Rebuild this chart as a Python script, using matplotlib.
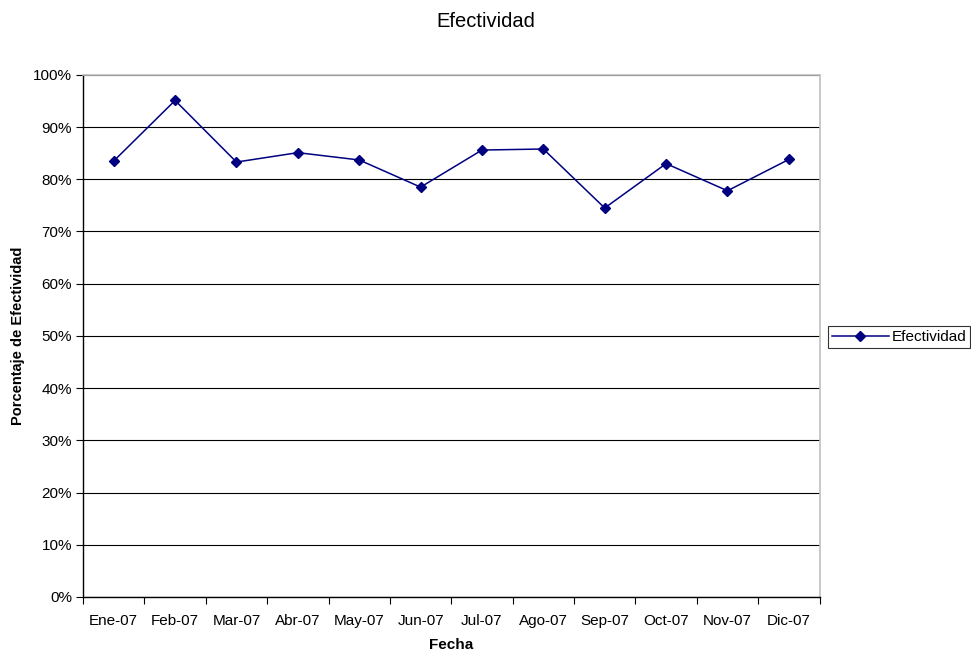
import matplotlib
matplotlib.use("Agg")
import matplotlib.pyplot as plt
from matplotlib.ticker import FixedLocator, FuncFormatter

plt.rcParams['font.family'] = ['Liberation Sans', 'DejaVu Sans']

# Datos mensuales de efectividad (%)
meses = ['Ene-07', 'Feb-07', 'Mar-07', 'Abr-07', 'May-07', 'Jun-07',
         'Jul-07', 'Ago-07', 'Sep-07', 'Oct-07', 'Nov-07', 'Dic-07']
efectividad = [83.5, 95.1, 83.3, 85.1, 83.7, 78.5,
               85.6, 85.8, 74.5, 83.0, 77.8, 83.8]

azul = '#000080'

fig = plt.figure(figsize=(9.71, 6.51), dpi=100)
ax = fig.add_axes([0.0855, 0.083, 0.7585, 0.802])

x = list(range(len(meses)))
ax.plot(x, efectividad, color=azul, linewidth=1.1, marker='D',
        markersize=5.5, label='Efectividad')

ax.set_xlim(-0.5, len(meses) - 0.5)
ax.set_ylim(0, 100)

# líneas de cuadrícula horizontales cada 10%
ax.set_yticks(range(0, 101, 10))
ax.yaxis.set_major_formatter(FuncFormatter(lambda v, p: f'{int(v)}%'))
ax.grid(axis='y', color='black', linewidth=0.8)
ax.set_axisbelow(True)

# ticks de categoría en los bordes, etiquetas centradas
ax.xaxis.set_major_locator(FixedLocator([i - 0.5 for i in range(len(meses) + 1)]))
ax.xaxis.set_major_formatter(FuncFormatter(lambda v, p: ''))
ax.xaxis.set_minor_locator(FixedLocator(x))
ax.set_xticklabels(meses, minor=True)
ax.tick_params(axis='x', which='minor', length=0, pad=12, labelsize=11)
ax.tick_params(axis='x', which='major', length=5, direction='out', color='black')
ax.tick_params(axis='y', length=5, direction='out', labelsize=11, pad=3)

for s in ['top', 'right']:
    ax.spines[s].set_color('#c0c0c0')
    ax.spines[s].set_linewidth(1.2)
for s in ['left', 'bottom']:
    ax.spines[s].set_color('black')
    ax.spines[s].set_linewidth(1.0)

ax.set_xlabel('Fecha', fontsize=11, fontweight='bold')
ax.xaxis.set_label_coords(0.5, -0.079)
ax.set_ylabel('Porcentaje de Efectividad', fontsize=10.5, fontweight='bold', labelpad=6)
fig.suptitle('Efectividad', fontsize=14.5, x=0.5, y=0.982)

leg = fig.legend(loc='center left', bbox_to_anchor=(0.853, 0.482),
                 fontsize=11, frameon=True, fancybox=False, borderpad=0.25,
                 handlelength=3.7, handletextpad=0.2, borderaxespad=0)
leg.get_frame().set_edgecolor('black')
leg.get_frame().set_linewidth(0.8)

fig.savefig('out.png', dpi=100)
